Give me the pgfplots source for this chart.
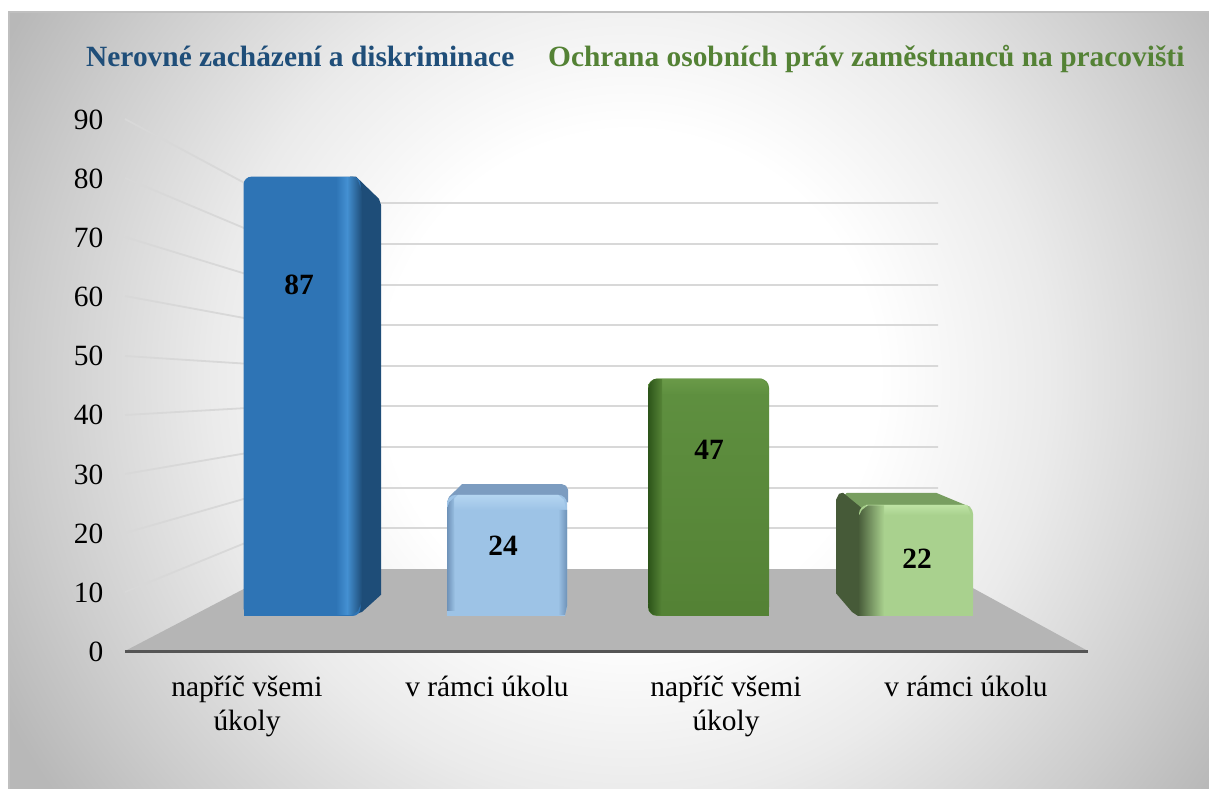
\documentclass[border=0pt]{standalone}
\usepackage{fontspec}
\setmainfont{Liberation Serif}
\usepackage{pgfplots}
\pgfplotsset{compat=1.18}
\definecolor{titleblue}{HTML}{1F4E79}
\definecolor{titlegreen}{HTML}{548235}
\definecolor{gridc}{HTML}{D8D8D8}
\definecolor{floorc}{HTML}{B5B5B5}
\definecolor{axisc}{HTML}{555555}
\definecolor{bA}{HTML}{2E74B5}
\definecolor{bAs}{HTML}{1E4D78}
\definecolor{bAh}{HTML}{4490D2}
\definecolor{bB}{HTML}{9DC3E6}
\definecolor{bBt}{HTML}{7C9CC0}
\definecolor{bBd}{HTML}{6E92B8}
\definecolor{bBh}{HTML}{B4D5F1}
\definecolor{bC}{HTML}{548235}
\definecolor{bCt}{HTML}{5F9040}
\definecolor{bCd}{HTML}{2C5419}
\definecolor{bCh}{HTML}{6A9A48}
\definecolor{bD}{HTML}{A9D18E}
\definecolor{bDs}{HTML}{465A38}
\definecolor{bDt}{HTML}{789E60}
\definecolor{bDh}{HTML}{BEE3A4}
\pgfdeclareradialshading{chartbg}{\pgfpoint{0bp}{0bp}}{%
 color(0bp)=(white); color(6.2bp)=(white); color(10.5bp)=(black!8); color(15bp)=(black!20); color(17.8bp)=(black!28); color(30bp)=(black!28); color(100bp)=(black!28)}
\newcommand{\lfont}{\fontsize{29.4}{34}\selectfont}
\begin{document}
\begin{tikzpicture}[x=1pt,y=1pt]
\useasboundingbox (0,0) rectangle (1209,789);
\fill[white] (0,0) rectangle (1209,789);
\begin{scope}
\clip (9,0) rectangle (1209,777);
\shade[shading=chartbg] (-370,-590) rectangle (1630,1410);
\end{scope}
\draw[black!25,line width=1.5pt] (9,0) -- (9,777) -- (1209,777);
% pixel axis: wall and floor
\begin{axis}[at={(0pt,0pt)},anchor=south west,width=1209pt,height=789pt,scale only axis,
  xmin=0,xmax=1209,ymin=0,ymax=789,y dir=reverse,hide axis,clip=false]
 \addplot[draw=none,fill=floorc] coordinates {(125,651)(282,569)(938,569)(1088,651)} -- cycle;
 \addplot[gridc,line width=1.8pt] coordinates {(125,592)(282,528)(938,528)};
 \addplot[gridc,line width=1.8pt] coordinates {(125,533)(282,488)(938,488)};
 \addplot[gridc,line width=1.8pt] coordinates {(125,474)(282,447)(938,447)};
 \addplot[gridc,line width=1.8pt] coordinates {(125,415)(282,406)(938,406)};
 \addplot[gridc,line width=1.8pt] coordinates {(125,356)(282,366)(938,366)};
 \addplot[gridc,line width=1.8pt] coordinates {(125,296)(282,325)(938,325)};
 \addplot[gridc,line width=1.8pt] coordinates {(125,237)(282,285)(938,285)};
 \addplot[gridc,line width=1.8pt] coordinates {(125,178)(282,244)(938,244)};
 \addplot[gridc,line width=1.8pt] coordinates {(125,119)(282,203)(938,203)};
\end{axis}
% tick axis
\begin{axis}[at={(125pt,137.5pt)},anchor=south west,width=963pt,height=532.5pt,scale only axis,
  xmin=125,xmax=1088,ymin=0,ymax=90,
  axis x line=bottom,axis y line=left,
  x axis line style={draw=axisc,line width=3.5pt,-},
  y axis line style={draw=none},
  tick style={draw=none},
  ytick={0,10,...,90},
  xtick={247,487,726,966},
  xticklabels={{napříč všemi\\úkoly},{v rámci úkolu},{napříč všemi\\úkoly},{v rámci úkolu}},
  xticklabel style={align=center,font=\lfont,yshift=-19pt},
  yticklabel style={font=\lfont,xshift=-16pt,yshift=-0.5pt,/pgf/number format/assume math mode=true},
]
\end{axis}
% bars: value axis, base at pixel row 616, 5.05 pixels per unit
\begin{axis}[at={(0pt,173pt)},anchor=south west,width=1209pt,height=505pt,scale only axis,
  xmin=0,xmax=1209,ymin=0,ymax=100,hide axis,clip=false]
 % bar 1 side
 \addplot[draw=none,fill=bAs] coordinates {(350,87)(356,87)(379,82.6)(381,81.4)(381,4.2)(362,0.8)(350,0)} -- cycle;
 % bar 2 top
 \addplot[draw=none,fill=bBt] coordinates {(447,22.5)(449,23.6)(462,26.1)(562,26.1)(566,25.8)(568,25)(568,22.5)(447,22.5)} -- cycle;
 % bar 4 side, top
 \addplot[draw=none,fill=bDt] coordinates {(842,22)(842,23.5)(847,24.4)(936,24.4)(970,21.6)(970,18)(842,18)} -- cycle;
 \addplot[draw=none,fill=bDs] coordinates {(836,23)(839,24.2)(843,24.4)(864,21)(875,21)(875,0)(858,0)(852,0.8)(836,4.5)} -- cycle;
 % front faces
 \addplot[ybar,bar width=117pt,bar shift=0pt,draw=none,fill=bA,rounded corners=8pt] coordinates {(302,87)};
 \addplot[ybar,bar width=120pt,bar shift=0pt,draw=none,fill=bB,rounded corners=9pt] coordinates {(507,24)};
 \addplot[ybar,bar width=121pt,bar shift=0pt,draw=none,top color=bCt,bottom color=bC,rounded corners=9pt] coordinates {(708.5,47)};
 \addplot[ybar,bar width=114pt,bar shift=0pt,draw=none,fill=bD,rounded corners=9pt] coordinates {(916,22)};
 % square feet of the bars
 \addplot[draw=none,fill=bA] coordinates {(243.5,0)(243.5,3)(350,3)(350,0)} -- cycle;
 \addplot[draw=none,fill=bB] coordinates {(447,0)(447,3)(567,3)(565,0)} -- cycle;
 \addplot[draw=none,fill=bC] coordinates {(660,0)(660,3)(769,3)(769,0)} -- cycle;
 \addplot[draw=none,fill=bD] coordinates {(875,0)(875,3)(973,3)(973,0)} -- cycle;
 % bevels bar 1
 \addplot[draw=none,left color=bA,right color=bAh] coordinates {(336,0.2)(336,86.9)(347,86.9)(347,0.2)} -- cycle;
 \addplot[draw=none,left color=bAh,right color=bAs] coordinates {(347,0.2)(347,86.9)(354,86.9)(358,86.2)(362,84)(362,3)(358,1)(352,0.2)} -- cycle;
 % bevels bar 2
 \addplot[draw=none,bottom color=bB,top color=bBh] coordinates {(451,21)(453,23)(458,24)(558,24)(564,23)(566,21)} -- cycle;
 \addplot[draw=none,left color=bBd,right color=bB] coordinates {(447,1)(447,21)(449,22.5)(454,23.4)(455,1)} -- cycle;
 \addplot[draw=none,left color=bB,right color=bBd] coordinates {(558,0.2)(558,21)(567,21)(567,2)(565,0.2)} -- cycle;
 % bevels bar 3
 \addplot[draw=none,bottom color=bCt,top color=bCh] coordinates {(650,44)(651,46)(656,47)(762,47)(767,46)(769,44)} -- cycle;
 \addplot[draw=none,left color=bCd,right color=bC!85!bCt] coordinates {(648,3)(648,45)(650,46.2)(654,46.9)(662,46.9)(662,0.2)(653,0.2)(649,1)} -- cycle;
 % bevels bar 4
 \addplot[draw=none,bottom color=bD,top color=bDh] coordinates {(866,20)(866,22)(967,22)(971,20)} -- cycle;
 \addplot[draw=none,left color=bDs,right color=bD] coordinates {(858,0)(858,19.5)(862,21)(868,21.9)(884,21.9)(884,0)} -- cycle;
 % data labels
 \addplot[only marks,mark=none,point meta=explicit symbolic,nodes near coords,
   every node near coord/.append style={font=\lfont\bfseries,anchor=center,text=black}]
   coordinates {(299,65.5)[87] (503,14)[24] (709,33)[47] (917,11.4)[22]};
\end{axis}
\node[anchor=base west,inner sep=0pt,font=\fontsize{29.4}{32}\selectfont\bfseries,text=titleblue] at (86,722) {Nerovné zacházení a diskriminace};
\node[anchor=base west,inner sep=0pt,font=\fontsize{29.4}{32}\selectfont\bfseries,text=titlegreen] at (548,722) {Ochrana osobních práv zaměstnanců na pracovišti};
\end{tikzpicture}
\end{document}
